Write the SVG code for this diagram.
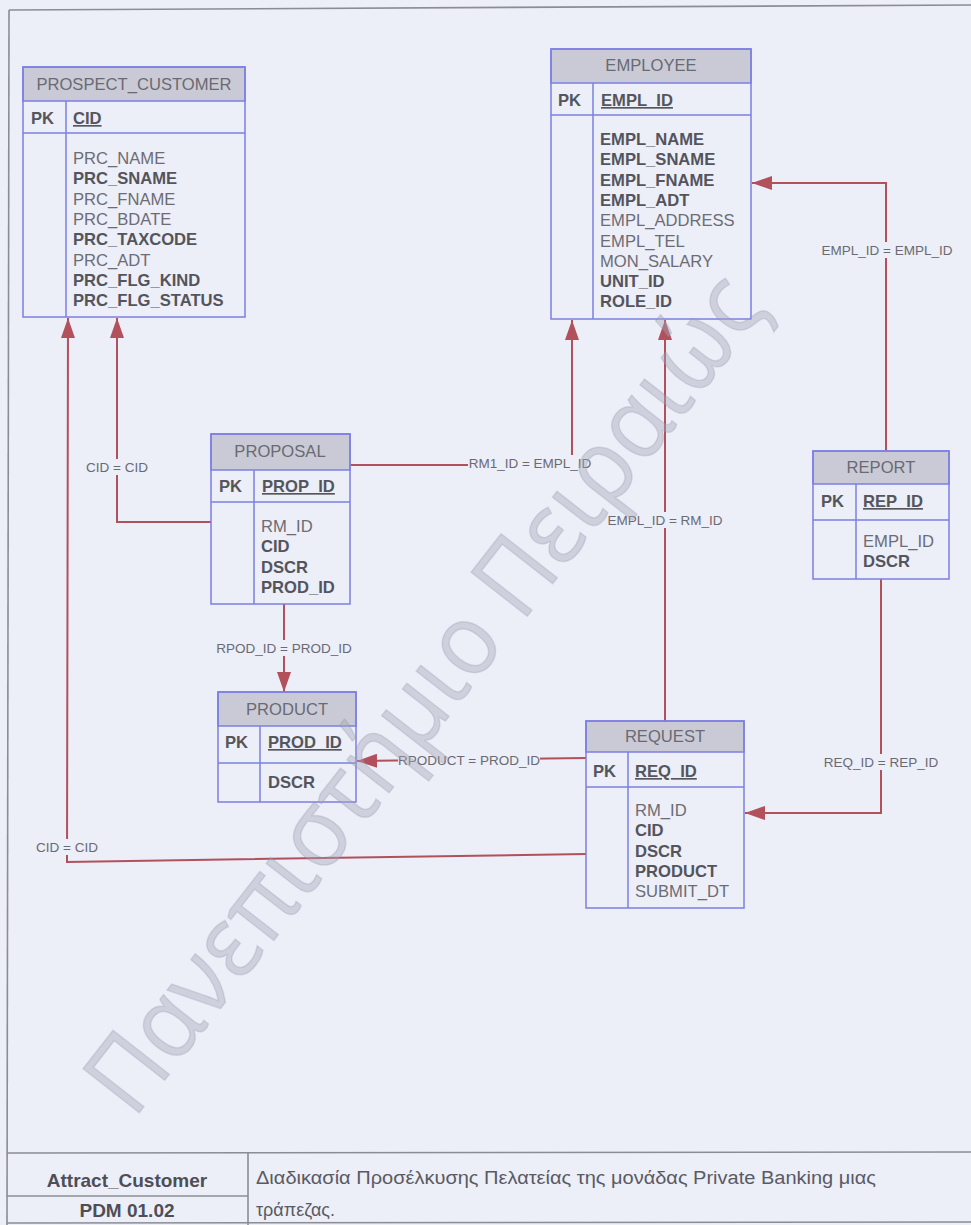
<svg xmlns="http://www.w3.org/2000/svg" width="971" height="1225" viewBox="0 0 971 1225">
<style>
  .bg { fill: #eceef8; }
  .page { stroke: #8c8c94; stroke-width: 1.6; fill: none; }
  .box { fill: none; stroke: #7c7fe2; stroke-width: 1.5; }
  .hdr { fill: #c9cad5; stroke: #7c7fe2; stroke-width: 1.5; }
  .sep { stroke: #7c7fe2; stroke-width: 1.5; }
  text { font-family: "Liberation Sans", Arial, sans-serif; }
  .title { font-size: 16.6px; fill: #6a6a72; text-anchor: middle; }
  .pk { font-size: 16.6px; font-weight: bold; fill: #55555c; }
  .key { font-size: 16.6px; font-weight: bold; fill: #55555c; text-decoration: underline; }
  .a { font-size: 16.6px; fill: #6c6c74; }
  .b { font-size: 16.6px; font-weight: bold; fill: #54545c; }
  .conn { fill: none; stroke: #b2505c; stroke-width: 2; }
  .lbl { font-size: 13.5px; fill: #6a6a72; text-anchor: middle; }
  .lblbg { fill: #eceef8; }
  .ft { font-size: 19px; font-weight: bold; fill: #4e4e56; text-anchor: middle; }
  .fd { font-size: 18px; fill: #5a5a62; }
  .wm { font-family: "Open Sans", "Noto Sans", sans-serif; font-size: 100px; fill: #a4a6b8; fill-opacity: 0.42; stroke: #8e90a4; stroke-opacity: 0.25; stroke-width: 1.5; }
</style>
<defs>
  <marker id="arr" viewBox="0 0 20 14" refX="20" refY="7" markerWidth="20" markerHeight="14" markerUnits="userSpaceOnUse" orient="auto">
    <path d="M0,0 L20,7 L0,14 z" fill="#b2505c"/>
  </marker>
</defs>

<rect class="bg" x="0" y="0" width="971" height="1225"/>

<!-- page frame -->
<g id="page-frame">
  <line class="page" x1="9" y1="10" x2="971" y2="5"/>
  <line class="page" x1="9" y1="10" x2="7" y2="1225"/>
  <line class="page" x1="7" y1="1153" x2="971" y2="1152"/>
  <line class="page" x1="7" y1="1196" x2="248" y2="1196"/>
  <line class="page" x1="7" y1="1223" x2="971" y2="1222"/>
  <line class="page" x1="248" y1="1153" x2="248" y2="1225"/>
</g>

<!-- connectors -->
<g id="connectors">
  <path class="conn" d="M211,522 L117,522 L117,318" marker-end="url(#arr)"/>
  <path class="conn" d="M586,854 L67,862 L68,318" marker-end="url(#arr)"/>
  <path class="conn" d="M350,465 L572,465 L572,320" marker-end="url(#arr)"/>
  <path class="conn" d="M665,721 L665,320" marker-end="url(#arr)"/>
  <path class="conn" d="M886,451 L886,183 L752,183" marker-end="url(#arr)"/>
  <path class="conn" d="M284,604 L284,692" marker-end="url(#arr)"/>
  <path class="conn" d="M586,758 L357,761" marker-end="url(#arr)"/>
  <path class="conn" d="M881,579 L881,813 L745,813" marker-end="url(#arr)"/>

  <rect class="lblbg" x="86" y="459" width="62" height="16"/>
  <text class="lbl" x="117" y="472">CID = CID</text>
  <rect class="lblbg" x="36" y="839" width="62" height="16"/>
  <text class="lbl" x="67" y="852">CID = CID</text>
  <rect class="lblbg" x="468" y="455" width="124" height="16"/>
  <text class="lbl" x="530" y="468">RM1_ID = EMPL_ID</text>
  <rect class="lblbg" x="607" y="512" width="116" height="16"/>
  <text class="lbl" x="665" y="525">EMPL_ID = RM_ID</text>
  <rect class="lblbg" x="821" y="242" width="132" height="16"/>
  <text class="lbl" x="887" y="255">EMPL_ID = EMPL_ID</text>
  <rect class="lblbg" x="216" y="640" width="136" height="16"/>
  <text class="lbl" x="284" y="653">RPOD_ID = PROD_ID</text>
  <rect class="lblbg" x="398" y="752" width="142" height="16"/>
  <text class="lbl" x="469" y="765">RPODUCT = PROD_ID</text>
  <rect class="lblbg" x="823" y="754" width="116" height="16"/>
  <text class="lbl" x="881" y="767">REQ_ID = REP_ID</text>
</g>

<!-- PROSPECT_CUSTOMER -->
<g id="prospect_customer">
  <rect class="hdr" x="23" y="67" width="222" height="34"/>
  <rect class="box" x="23" y="67" width="222" height="250"/>
  <line class="sep" x1="23" y1="133" x2="245" y2="133"/>
  <line class="sep" x1="66" y1="101" x2="66" y2="317"/>
  <text class="title" x="134" y="90">PROSPECT_CUSTOMER</text>
  <text class="pk" x="31" y="124">PK</text>
  <text class="key" x="73" y="124">CID</text>
  <text class="a" x="73" y="164">PRC_NAME</text>
  <text class="b" x="73" y="184.3">PRC_SNAME</text>
  <text class="a" x="73" y="204.6">PRC_FNAME</text>
  <text class="a" x="73" y="224.9">PRC_BDATE</text>
  <text class="b" x="73" y="245.2">PRC_TAXCODE</text>
  <text class="a" x="73" y="265.5">PRC_ADT</text>
  <text class="b" x="73" y="285.8">PRC_FLG_KIND</text>
  <text class="b" x="73" y="306.1">PRC_FLG_STATUS</text>
</g>

<!-- EMPLOYEE -->
<g id="employee">
  <rect class="hdr" x="551" y="49" width="200" height="34"/>
  <rect class="box" x="551" y="49" width="200" height="270"/>
  <line class="sep" x1="551" y1="115" x2="751" y2="115"/>
  <line class="sep" x1="593" y1="83" x2="593" y2="319"/>
  <text class="title" x="651" y="71">EMPLOYEE</text>
  <text class="pk" x="558" y="106">PK</text>
  <text class="key" x="601" y="106">EMPL_ID</text>
  <text class="b" x="600" y="145">EMPL_NAME</text>
  <text class="b" x="600" y="165.3">EMPL_SNAME</text>
  <text class="b" x="600" y="185.6">EMPL_FNAME</text>
  <text class="b" x="600" y="205.9">EMPL_ADT</text>
  <text class="a" x="600" y="226.2">EMPL_ADDRESS</text>
  <text class="a" x="600" y="246.5">EMPL_TEL</text>
  <text class="a" x="600" y="266.8">MON_SALARY</text>
  <text class="b" x="600" y="287.1">UNIT_ID</text>
  <text class="b" x="600" y="307.4">ROLE_ID</text>
</g>

<!-- PROPOSAL -->
<g id="proposal">
  <rect class="hdr" x="211" y="434" width="139" height="36"/>
  <rect class="box" x="211" y="434" width="139" height="170"/>
  <line class="sep" x1="211" y1="502" x2="350" y2="502"/>
  <line class="sep" x1="254" y1="470" x2="254" y2="604"/>
  <text class="title" x="280" y="457">PROPOSAL</text>
  <text class="pk" x="219" y="492">PK</text>
  <text class="key" x="262" y="492">PROP_ID</text>
  <text class="a" x="261" y="532">RM_ID</text>
  <text class="b" x="261" y="552.3">CID</text>
  <text class="b" x="261" y="572.6">DSCR</text>
  <text class="b" x="261" y="592.9">PROD_ID</text>
</g>

<!-- PRODUCT -->
<g id="product">
  <rect class="hdr" x="218" y="692" width="138" height="34"/>
  <rect class="box" x="218" y="692" width="138" height="110"/>
  <line class="sep" x1="218" y1="763" x2="356" y2="763"/>
  <line class="sep" x1="260" y1="726" x2="260" y2="802"/>
  <text class="title" x="287" y="715">PRODUCT</text>
  <text class="pk" x="225" y="748">PK</text>
  <text class="key" x="268" y="748">PROD_ID</text>
  <text class="b" x="268" y="788">DSCR</text>
</g>

<!-- REPORT -->
<g id="report">
  <rect class="hdr" x="813" y="451" width="136" height="33"/>
  <rect class="box" x="813" y="451" width="136" height="128"/>
  <line class="sep" x1="813" y1="520" x2="949" y2="520"/>
  <line class="sep" x1="856" y1="484" x2="856" y2="579"/>
  <text class="title" x="881" y="473">REPORT</text>
  <text class="pk" x="821" y="507">PK</text>
  <text class="key" x="863" y="507">REP_ID</text>
  <text class="a" x="863" y="547">EMPL_ID</text>
  <text class="b" x="863" y="567.3">DSCR</text>
</g>

<!-- REQUEST -->
<g id="request">
  <rect class="hdr" x="586" y="721" width="158" height="31"/>
  <rect class="box" x="586" y="721" width="158" height="187"/>
  <line class="sep" x1="586" y1="787" x2="744" y2="787"/>
  <line class="sep" x1="628" y1="752" x2="628" y2="908"/>
  <text class="title" x="665" y="742">REQUEST</text>
  <text class="pk" x="593" y="777">PK</text>
  <text class="key" x="635" y="777">REQ_ID</text>
  <text class="a" x="635" y="816">RM_ID</text>
  <text class="b" x="635" y="836.3">CID</text>
  <text class="b" x="635" y="856.6">DSCR</text>
  <text class="b" x="635" y="876.9">PRODUCT</text>
  <text class="a" x="635" y="897.2">SUBMIT_DT</text>
</g>

<!-- title block -->
<g id="title-block">
  <text class="ft" x="127" y="1187">Attract_Customer</text>
  <text class="ft" x="127" y="1217">PDM 01.02</text>
  <text class="fd" x="256" y="1184" textLength="620" lengthAdjust="spacingAndGlyphs">Διαδικασία Προσέλκυσης Πελατείας της μονάδας Private Banking μιας</text>
  <text class="fd" x="256" y="1216">τράπεζας.</text>
</g>

<!-- watermark -->
<g id="watermark">
  <text class="wm" x="0" y="0" transform="translate(420,690) rotate(-52)" text-anchor="middle" dominant-baseline="central" textLength="1030" lengthAdjust="spacingAndGlyphs">Πανεπιστήμιο Πειραιώς</text>
</g>
</svg>
